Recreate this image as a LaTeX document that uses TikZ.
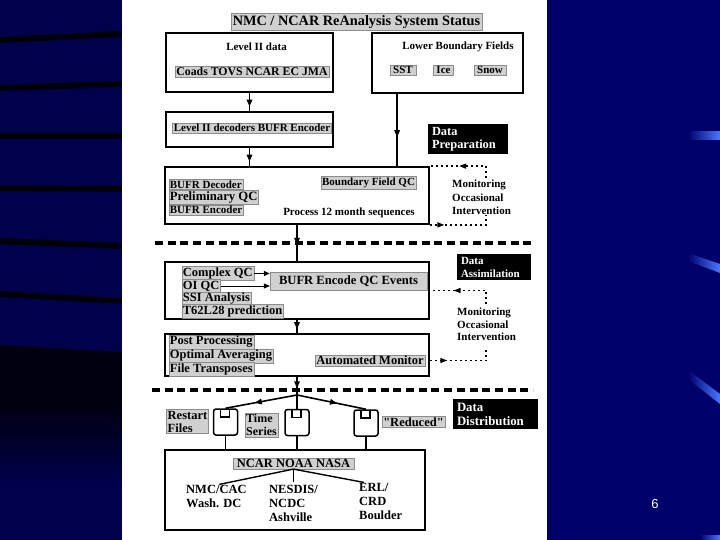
\documentclass[tikz,border=0pt]{standalone}
\usepackage{fontspec}
\setmainfont{Liberation Serif}
\setsansfont{Liberation Sans}
\usetikzlibrary{arrows.meta, decorations.markings}
\definecolor{navy}{HTML}{00006B}
\definecolor{navyd}{HTML}{00004C}
\definecolor{sky}{HTML}{4A78FF}
\definecolor{tagfill}{HTML}{D0D0D0}
\newcommand{\sz}[2]{\fontsize{#1}{#2}\selectfont\bfseries}

\begin{document}
\begin{tikzpicture}[
  x=1pt, y=-1pt,
  font=\sz{11}{13},
  box/.style={draw, line width=1.8pt, inner sep=0pt},
  tag/.style={fill=tagfill, draw=black!45, line width=0.4pt, inner sep=1.2pt},
  stage/.style={fill=black, text=white, align=left, inner xsep=4pt, inner ysep=0pt},
  note/.style={align=left, inner sep=0pt},
  divider/.style={line width=3.2pt, dash pattern=on 8pt off 4.7pt},
  flow/.style={line width=1.6pt, postaction={decorate},
    decoration={markings, mark=at position #1 with {\arrow{Triangle[length=7pt, width=5.5pt]}}}},
  mon/.style={line width=1.4pt, dash pattern=on 1.6pt off 3.4pt, postaction={decorate},
    decoration={markings, mark=at position #1 with {\arrow[solid]{Triangle[length=7pt, width=5pt]}}}},
  disk/.style={draw, line width=1.5pt, rounded corners=2.5pt, minimum width=24pt,
    minimum height=26pt, inner sep=0pt,
    path picture={\draw[line width=1.3pt, sharp corners] ([xshift=-5pt]path picture bounding box.north)
      rectangle ([xshift=4pt, yshift=-8pt]path picture bounding box.north);}},
]
\useasboundingbox (0,0) rectangle (720,540);
% Slide background
\fill[navy] (0,0) rectangle (720,540);
\fill[navyd] (0,0) rectangle (122,540);
\fill[black!80!navyd] (0,345) -- (122,352) -- (122,405) -- (0,405) -- cycle;
\shade[top color=black!80!navyd, bottom color=navyd] (0,405) rectangle (122,485);
\foreach \ya/\yb in {40/34, 88/84, 136/136, 188/189, 241/246, 294/301}
  \draw[line width=6pt, black!85!navyd] (0,\ya) -- (122,\yb);
\shade[left color=navy, right color=sky] (688,132) rectangle (720,140);
\shade[left color=navy, right color=sky] (688,253) -- (720,264) -- (720,273) -- (688,261) -- cycle;
\shade[left color=navy, right color=sky] (688,370) -- (720,394) -- (720,404) -- (688,379) -- cycle;
\shade[left color=navy, right color=sky] (700,535) rectangle (720,540);
\fill[white] (122,0) rectangle (547,540);
\node[text=white, font=\sffamily\fontsize{13}{15}\selectfont] (page) at (655,504) {6};

% Title
\node[tag, font=\sz{14.3}{16}, inner sep=2pt] (title) at (356.5,22) {NMC / NCAR ReAnalysis System Status};

% Input data
\node[box, minimum width=167pt, minimum height=59pt] (lvl2) at (249.5,62.5) {};
\node (lvl2t) at (256.5,47) {Level II data};
\node[tag, font=\sz{11.8}{13}] (obs) at (252,71.5) {Coads TOVS NCAR EC JMA};
\node[box, minimum width=151pt, minimum height=60pt] (lbf) at (447.5,63) {};
\node (lbft) at (458,47) {Lower Boundary Fields};
\node[tag, inner xsep=3pt] (sst) at (403,70) {SST};
\node[tag, inner xsep=3pt] (ice) at (443.5,70) {Ice};
\node[tag, inner xsep=3pt] (snow) at (490,70) {Snow};

% Data preparation
\node[box, minimum width=167pt, minimum height=35pt] (dec) at (249.5,129.5) {};
\node[tag] (dect) at (252,128) {Level II decoders BUFR Encoder};
\node[box, minimum width=264pt, minimum height=57pt] (prep) at (297,195.5) {};
\node[tag, anchor=west] (bdec) at (168.5,184.5) {BUFR Decoder};
\node[tag, anchor=west, font=\sz{12.7}{14}] (pqc) at (168.5,197.5) {Preliminary QC};
\node[tag, anchor=west] (benc) at (168.5,210) {BUFR Encoder};
\node[tag] (bfqc) at (368.5,182.5) {Boundary Field QC};
\node (seq) at (349,213) {Process 12 month sequences};
\node[stage, font=\sz{12.4}{13}, text width=72pt, minimum height=30pt] (prepl) at (468,139) {Data\\Preparation};
\node[note, anchor=west, font=\sz{11}{13.5}] (mon1) at (452,197.5) {Monitoring\\Occasional\\Intervention};

% Assimilation
\node[box, minimum width=264pt, minimum height=57pt] (qc) at (297,290.5) {};
\node[tag, anchor=west, font=\sz{12.5}{13}] (cqc) at (181.5,273.5) {Complex QC};
\node[tag, anchor=west, font=\sz{12.5}{13}] (oiqc) at (181.5,286) {OI QC};
\node[tag, anchor=west, font=\sz{12.5}{13}] (ssi) at (181.5,299) {SSI Analysis};
\node[tag, anchor=west, font=\sz{12.5}{13}] (t62) at (181.5,311.5) {T62L28 prediction};
\node[tag, font=\sz{12.6}{14}, minimum width=157pt, minimum height=18pt] (bufrqc) at (348.5,281) {BUFR Encode QC Events};
\node[stage, font=\sz{11}{13}, text width=66pt, minimum height=26pt] (assim) at (494,267) {Data\\Assimilation};
\node[note, anchor=west, font=\sz{11}{12.5}] (mon2) at (457,324.5) {Monitoring\\Occasional\\Intervention};

% Post processing
\node[box, minimum width=264pt, minimum height=42pt] (post) at (297,355) {};
\node[tag, anchor=west, font=\sz{12.5}{13}] (pp) at (168.5,342) {Post Processing};
\node[tag, anchor=west, font=\sz{12.5}{13}] (oa) at (168.5,356) {Optimal Averaging};
\node[tag, anchor=west, font=\sz{12.5}{13}] (ft) at (168.5,369) {File Transposes};
\node[tag, font=\sz{12.5}{13}] (am) at (370,360.5) {Automated Monitor};

% Distribution
\node[stage, font=\sz{12.8}{14}, text width=77pt, minimum height=30pt] (distl) at (495.5,414) {Data\\Distribution};
\coordinate (split) at (297,395);
\node[disk] (d1) at (225.5,422) {};
\node[disk] (d2) at (297,422.5) {};
\node[disk] (d3) at (366,423) {};
\node[tag, align=left, font=\sz{12.5}{13}] (rst) at (187.5,421.5) {Restart\\Files};
\node[tag, align=left, font=\sz{12}{13.5}] (ts) at (261.5,425) {Time\\Series};
\node[tag, font=\sz{12.5}{13}\addfontfeature{Ligatures=TeXOff}] (red) at (413.5,422) {"Reduced"};
\node[box, minimum width=260pt, minimum height=80pt] (users) at (295,490) {};
\node[tag, inner xsep=4pt, font=\sz{12.5}{13}] (org) at (293.5,463.5) {NCAR NOAA NASA};
\node[note, anchor=north west, font=\sz{12.5}{14}] (nmc) at (186,485) {NMC/CAC\\Wash. DC};
\node[note, anchor=north west, font=\sz{12.5}{14}] (nesdis) at (269,485) {NESDIS/\\NCDC\\Ashville};
\node[note, anchor=north west, font=\sz{12.5}{14}] (erl) at (359,483) {ERL/\\CRD\\Boulder};

% Stage dividers
\coordinate (s1a) at (155,243);
\coordinate (s1b) at (535,243);
\coordinate (s2a) at (152,390);
\coordinate (s2b) at (533,390);
\draw[divider] (s1a) -- (s1b);
\draw[divider] (s2a) -- (s2b);

% Main flow
\coordinate (lbfout) at ([xshift=26pt]lbf.south west);
\draw[flow=0.75] (lvl2.south) -- (dec.north);
\draw[flow=0.6] (lbfout) -- (lbfout |- prep.north);
\draw[flow=0.75] (dec.south) -- (prep.north -| dec.south);
\draw[flow=0.55] (prep.south) -- (qc.north);
\draw[flow=0.7] (qc.south) -- (post.north);
\draw[flow=0.63] (post.south) -- (split);
\draw[flow=0.59] (split) -- (d1.north);
\draw[line width=1.6pt] (split) -- (d2.north);
\draw[flow=0.58] (split) -- (d3.north);
\foreach \d in {d1,d2,d3}
  \draw[line width=1.6pt] (\d.south) -- (\d.south |- users.north);
\draw[line width=1.2pt, -{Triangle[length=6pt, width=5pt]}] (cqc.east) -- (cqc.east -| bufrqc.west);
\draw[line width=0.8pt, -{Triangle[length=6pt, width=5pt]}] (oiqc.east) -- (oiqc.east -| bufrqc.west);
\draw[line width=1.4pt, shorten >=3pt] (org.south) -- (nmc.north);
\draw[line width=1.4pt, shorten >=3pt] (org.south) -- (org.south |- nesdis.north);
\draw[line width=1.4pt, shorten >=3pt] (org.south) -- ([xshift=8pt]erl.north west);

% Monitoring loops
\coordinate (m1a) at (486,178);
\coordinate (m1b) at (486,215);
\coordinate (m2a) at (486,304);
\coordinate (m2b) at (486,347);
\draw[mon=0.57] (m1a) |- (prep.north east);
\draw[mon=0.22] (prep.south east) -| (m1b);
\draw[mon=0.66] (m2a) |- (qc.east);
\draw[mon=0.25] (post.east |- am.east) -| (m2b);
\end{tikzpicture}
\end{document}
